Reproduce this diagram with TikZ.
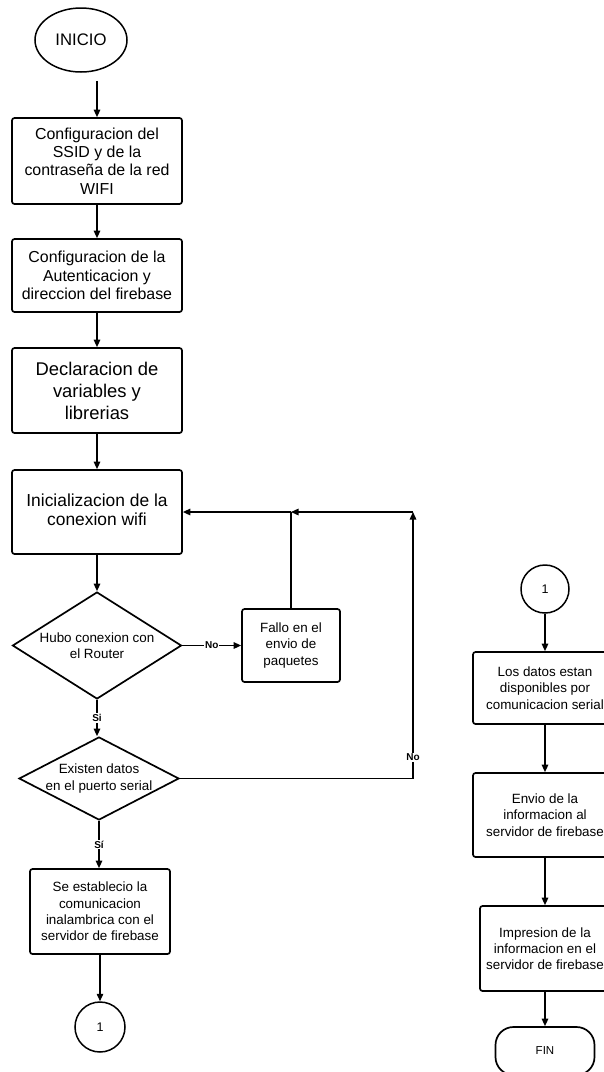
\documentclass[tikz,border=0pt]{standalone}
\usepackage{fontspec}
\setmainfont{Liberation Sans}
\usetikzlibrary{shapes.geometric,arrows.meta}
\begin{document}
\begin{tikzpicture}[x=1pt,y=-1pt,
  proc/.style={draw,rounded corners=2.5pt,line width=1.7pt,inner sep=0pt,align=center},
  dec/.style={draw,diamond,line width=1.7pt,inner sep=0pt},
  conn/.style={draw,circle,line width=1.5pt,inner sep=0pt,font=\fontsize{12.5}{14}\selectfont},
  small/.style={font=\fontsize{13.4}{16.3}\selectfont},
  mid/.style={font=\fontsize{15.9}{18.3}\selectfont},
  arr/.style={line width=1.4pt,-{Triangle[length=7.5pt,width=6.5pt]}},
  ln/.style={line width=1.4pt},
  lbl/.style={fill=white,inner sep=1pt,font=\fontsize{10}{12}\selectfont\bfseries}
]
\clip (0,0) rectangle (604,1072);
\fill[white] (0,0) rectangle (604,1072);

% left column
\node[draw,ellipse,line width=1.5pt,inner sep=0pt,minimum width=92pt,minimum height=64pt,
  font=\fontsize{16.7}{19}\selectfont] (ini) at (81,40) {INICIO};
\node[proc,mid,minimum width=170pt,minimum height=86pt] (b1) at (97,161)
  {Configuracion del\\SSID y de la\\contraseña de la red\\WIFI};
\node[proc,mid,minimum width=170pt,minimum height=73pt] (b2) at (97,275.5)
  {Configuracion de la\\Autenticacion y\\direccion del firebase};
\node[proc,font=\fontsize{18.4}{22}\selectfont,minimum width=170pt,minimum height=85pt] (b3) at (97,390.5)
  {Declaracion de\\variables y\\librerias};
\node[proc,font=\fontsize{17.4}{20}\selectfont,minimum width=170pt,minimum height=84pt] (b4) at (97,512)
  {\raisebox{4pt}{\begin{tabular}{@{}c@{}}Inicializacion de la\\[-1pt]conexion wifi\end{tabular}}};
\node[dec,minimum width=169pt,minimum height=107pt,
  label={[small,align=center]center:Hubo conexion con\\el Router}] (d1) at (97,645.5) {};
\node[proc,small,minimum width=98pt,minimum height=73pt] (fallo) at (291,645.5)
  {Fallo en el\\envio de\\paquetes};
\node[dec,minimum width=160pt,minimum height=83pt,
  label={[small,align=center]center:Existen datos\\en el puerto serial}] (d2) at (99,778.5) {};
\node[proc,small,minimum width=140pt,minimum height=85pt] (b5) at (100,911.5)
  {Se establecio la\\comunicacion\\inalambrica con el\\servidor de firebase};
\node[conn,minimum size=50pt] (c1) at (100,1027) {1};

% right column
\node[conn,minimum size=48pt] (c2) at (545,589) {1};
\node[proc,small,minimum width=144pt,minimum height=72pt] (b6) at (545,688)
  {Los datos estan\\disponibles por\\comunicacion serial};
\node[proc,small,minimum width=144pt,minimum height=84pt] (b7) at (545,815)
  {Envio de la\\informacion al\\servidor de firebase};
\node[proc,small,minimum width=130pt,minimum height=85pt] (b8) at (545,948.5)
  {Impresion de la\\informacion en el\\servidor de firebase};
\node[draw,line width=1.7pt,rounded corners=18pt,minimum width=99pt,minimum height=48pt,
  font=\fontsize{11.5}{13}\selectfont] (fin) at (545,1051) {FIN};

\coordinate (nc) at (413,778.5);
\coordinate (nj) at (413,512);
\coordinate (fj) at (291,512);

% connectors
\draw[arr] (b1.north |- ini.south) ++(0,8) -- (b1.north);
\draw[arr] (b1) -- (b2);
\draw[arr] (b2) -- (b3);
\draw[arr] (b3) -- (b4);
\draw[arr] (b4) -- (d1);
\draw[arr] (d1.south) -- node[lbl]{Si} (d1.south |- d2.north);
\draw[arr] (d1.east) -- node[lbl]{No} (fallo.west);
\draw[ln] (fallo.north) -- (fj);
\draw[arr] (fj) -- (b4.east);
\draw[arr] (d2.east) -- (nc) -- node[lbl,pos=0.08]{No} (nj);
\draw[arr] (nj) -- (fj);
\draw[arr] (d2.south) -- node[lbl]{Sí} (d2.south |- b5.north);
\draw[arr] (b5) -- (c1);
\draw[arr] (c2) -- (b6);
\draw[arr] (b6) -- (b7);
\draw[arr] (b7) -- (b8);
\draw[arr] (b8) -- (fin);
\end{tikzpicture}
\end{document}
